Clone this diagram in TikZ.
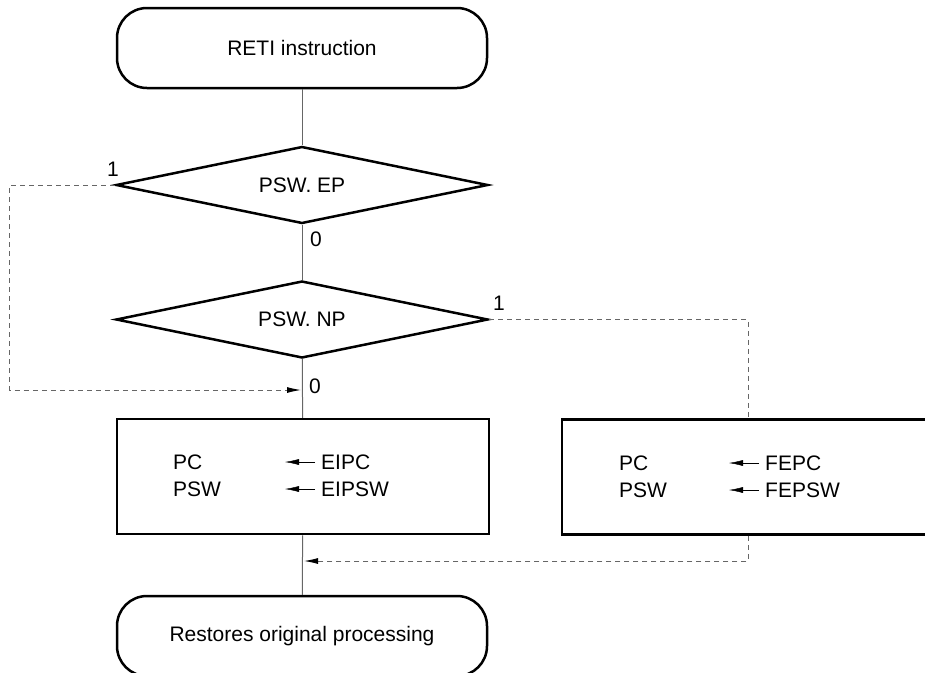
\documentclass[tikz,border=0pt]{standalone}
\usepackage{fontspec}
\setmainfont{Liberation Sans}
\usetikzlibrary{shapes.geometric}
\usetikzlibrary{arrows.meta}
\tikzstyle{term}=[draw, line width=2.5pt, rounded corners=30pt, minimum width=370pt, minimum height=80pt]
\tikzstyle{test}=[draw, diamond, aspect=4.9, inner sep=0pt, line width=2.5pt, minimum width=372pt, minimum height=77pt]
\tikzstyle{proc}=[draw, line width=2.5pt, minimum width=372pt, minimum height=115pt]
\tikzstyle{txt}=[anchor=west, inner sep=0pt]
\tikzstyle{flow}=[draw=black!60, line width=1pt]
\tikzstyle{jump}=[draw=black!60, line width=1pt, dash pattern=on 5pt off 4pt]
\tikzstyle{arr}=[-{Latex[black,length=14pt,width=6pt]}]

\begin{document}
\begin{tikzpicture}
        [x=1pt,y=-1pt,font=\fontsize{21}{27}\selectfont]
            \useasboundingbox (0,0) rectangle (925,672);
            \clip (0,0) rectangle (925,672);
            % start / end
            \node [term] (reti) at (302,48) {RETI instruction};
            \node [term] (back) at (302,636) {Restores original processing};
            % tests
            \node [test] (ep) at (302,185) {PSW. EP};
            \node [test] (np) at (302,319.5) {PSW. NP};
            % restore boxes
            \node [proc] (eibox) at (303,476.5) {};
            \node [proc] (febox) at (748,477) {};
            \node [txt] (pca) at (173,462) {PC};
            \node [txt] (pswa) at (173,489) {PSW};
            \node [txt] (eipc) at (321,462) {EIPC};
            \node [txt] (eipsw) at (321,489) {EIPSW};
            \node [txt] (pcb) at (619,463) {PC};
            \node [txt] (pswb) at (619,490) {PSW};
            \node [txt] (fepc) at (765,463) {FEPC};
            \node [txt] (fepsw) at (765,490) {FEPSW};
            \draw [arr] ([xshift=-6pt]eipc.west) -- ([xshift=-36pt]eipc.west);
            \draw [arr] ([xshift=-6pt]eipsw.west) -- ([xshift=-36pt]eipsw.west);
            \draw [arr] ([xshift=-6pt]fepc.west) -- ([xshift=-36pt]fepc.west);
            \draw [arr] ([xshift=-6pt]fepsw.west) -- ([xshift=-36pt]fepsw.west);
            % branch labels
            \node (epone) at (113,169) {1};
            \node (epzero) at (316,239) {0};
            \node (npone) at (499,303) {1};
            \node (npzero) at (315,386) {0};
            % main flow
            \coordinate (join1) at (301,390);
            \coordinate (join2) at (304,561);
            \draw [flow] (reti) -- (ep) ;
            \draw [flow] (ep) -- (np) ;
            \draw [flow] (np) -- (eibox) ;
            \draw [flow] (eibox) -- (back) ;
            \draw [jump,arr] (ep.west) -- ++(-105,0) |- (join1) ;
            \draw [jump] (np.east) -| (febox.north) ;
            \draw [jump,arr] (febox.south) |- (join2) ;
        \end{tikzpicture}
\end{document}
